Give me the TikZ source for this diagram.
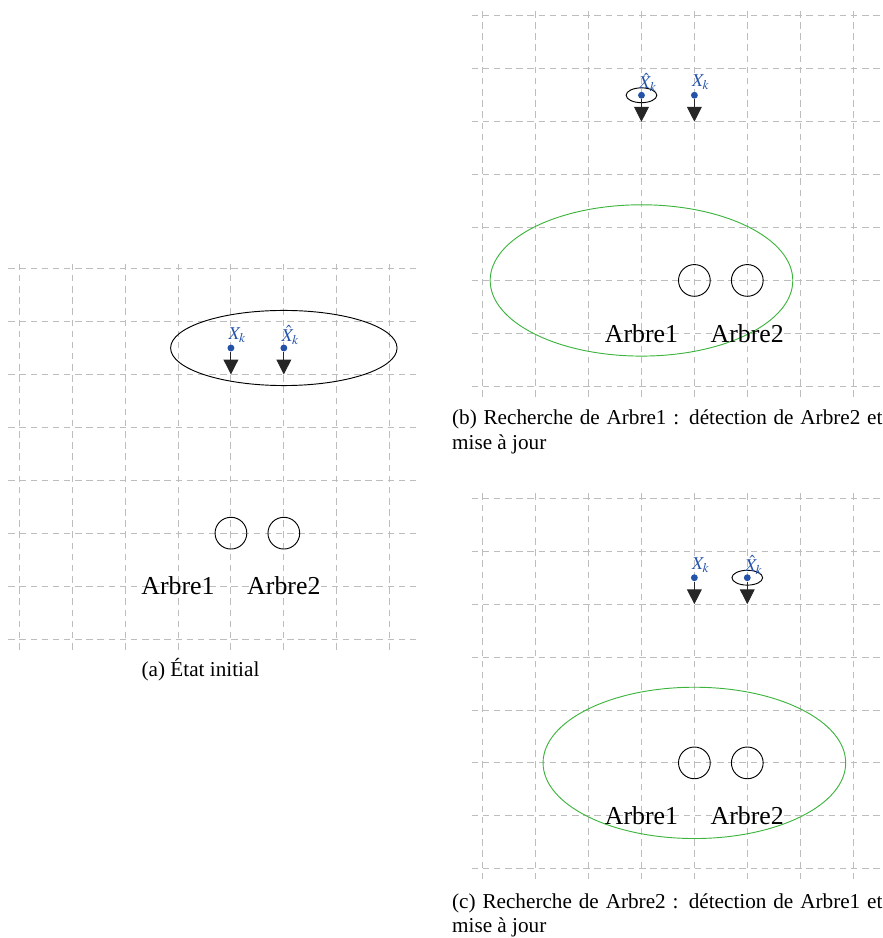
\documentclass[tikz,border=0pt]{standalone}
\usepackage{mathptmx}
\usepackage{fontspec}
\setmainfont{Liberation Serif}
\usetikzlibrary{positioning,arrows.meta,calc}
\definecolor{trblue}{HTML}{2352A8}
\definecolor{trgreen}{HTML}{3DB43D}
\definecolor{trgrid}{HTML}{BDBDBD}

\begin{document}
\begin{tikzpicture}[
    gridline/.style={trgrid, dash pattern=on 3.5pt off 2.5pt, line width=0.5pt},
    pose/.style={circle, fill=trblue, inner sep=0pt, minimum size=0.13cm},
    poselabel/.style={text=trblue, inner sep=0pt, anchor=west, font=\fontsize{9.7}{11}\selectfont},
    motion/.style={-{Triangle[width=0.28cm,length=0.28cm]}, black!85, line width=0.5pt},
    tree/.style={circle, draw, inner sep=0pt, minimum size=0.6cm, line width=0.5pt},
    treelabel/.style={font=\fontsize{13.9}{16}\selectfont},
    subcap/.style={inner sep=0pt, font=\fontsize{11.4}{13.4}\selectfont},
    uncert/.style={black, line width=0.5pt},
    search/.style={trgreen, line width=0.5pt}
  ]
  \useasboundingbox (0,0) rectangle (16.69,17.73);

  % (a) initial state
  \begin{scope}[shift={(0.365,5.652)}]
    \draw[gridline] (-0.21,-0.2) grid (7.54,7.14);
    \draw[uncert] (5,5.5) ellipse [x radius=2.14, y radius=0.71];
    \node[pose] (xa) at (4,5.5) {};
    \node[pose] (ha) at (5,5.5) {};
    \coordinate (xae) at (4,5);
    \coordinate (hae) at (5,5);
    \draw[motion] (xa) -- (xae);
    \draw[motion] (ha) -- (hae);
    \node[poselabel] (lxa) at ($(xa)+(-0.05,0.24)$) {$X_k$};
    \node[poselabel] (lha) at ($(ha)+(-0.05,0.24)$) {$\hat{X}_k$};
    \node[tree] (ta1) at (4,2) {};
    \node[tree] (ta2) at (5,2) {};
    \node[treelabel] (na1) at (3,1) {Arbre1};
    \node[treelabel] (na2) at (5,1) {Arbre2};
    \node[subcap, anchor=base] (capa) at (3.425,-0.718) {(a) État initial};
  \end{scope}

  % (b) searching Arbre1
  \begin{scope}[shift={(9.125,10.429)}]
    \draw[gridline] (-0.21,-0.2) grid (7.54,7.14);
    \draw[search] (3,2) ellipse [x radius=2.86, y radius=1.43];
    \node[pose] (hb) at (3,5.5) {};
    \node[pose] (xb) at (4,5.5) {};
    \draw[uncert] (hb) ellipse [x radius=0.29, y radius=0.14];
    \coordinate (hbe) at (3,5);
    \coordinate (xbe) at (4,5);
    \draw[motion] (hb) -- (hbe);
    \draw[motion] (xb) -- (xbe);
    \node[poselabel] (lhb) at ($(hb)+(-0.05,0.24)$) {$\hat{X}_k$};
    \node[poselabel] (lxb) at ($(xb)+(-0.05,0.24)$) {$X_k$};
    \node[tree] (tb1) at (4,2) {};
    \node[tree] (tb2) at (5,2) {};
    \node[treelabel] (nb1) at (3,1) {Arbre1};
    \node[treelabel] (nb2) at (5,1) {Arbre2};
    \node[subcap, anchor=base west, text width=8.134cm, align=justify] (capb) at (-0.586,-0.731)
      {(b) Recherche de Arbre1~: détection de Arbre2 et mise à jour};
  \end{scope}

  % (c) searching Arbre2
  \begin{scope}[shift={(9.125,1.310)}]
    \draw[gridline] (-0.21,-0.2) grid (7.54,7.14);
    \draw[search] (4,2) ellipse [x radius=2.86, y radius=1.43];
    \node[pose] (xc) at (4,5.5) {};
    \node[pose] (hc) at (5,5.5) {};
    \draw[uncert] (hc) ellipse [x radius=0.29, y radius=0.14];
    \coordinate (xce) at (4,5);
    \coordinate (hce) at (5,5);
    \draw[motion] (xc) -- (xce);
    \draw[motion] (hc) -- (hce);
    \node[poselabel] (lxc) at ($(xc)+(-0.05,0.24)$) {$X_k$};
    \node[poselabel] (lhc) at ($(hc)+(-0.05,0.24)$) {$\hat{X}_k$};
    \node[tree] (tc1) at (4,2) {};
    \node[tree] (tc2) at (5,2) {};
    \node[treelabel] (nc1) at (3,1) {Arbre1};
    \node[treelabel] (nc2) at (5,1) {Arbre2};
    \node[subcap, anchor=base west, text width=8.134cm, align=justify] (capc) at (-0.586,-0.743)
      {(c) Recherche de Arbre2~: détection de Arbre1 et mise à jour};
  \end{scope}
\end{tikzpicture}
\end{document}
